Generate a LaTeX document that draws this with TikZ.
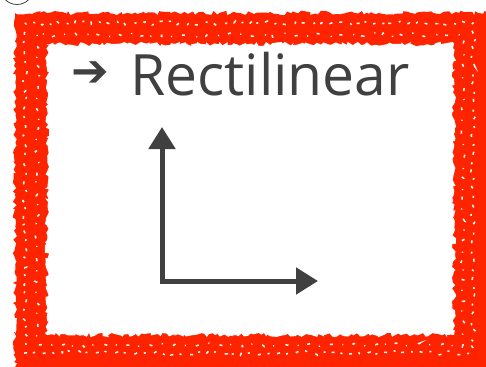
\documentclass[tikz,border=0pt]{standalone}
\usepackage{fontspec}
\setmainfont{Open Sans}
\newfontfamily\symbfont{DejaVu Sans}
\usetikzlibrary{arrows.meta,decorations.pathmorphing}
\definecolor{framered}{RGB}{255,36,0}
\definecolor{ink}{RGB}{64,64,64}

\begin{document}
\begin{tikzpicture}[
  x=1pt, y=-1pt,
  rough/.style={decorate, decoration={random steps, segment length=3pt, amplitude=2.2pt}},
  speck/.style={white, line width=2.4pt, rough,
                dash pattern=on 3pt off 5pt on 5pt off 4pt on 1pt off 6pt},
  ax/.style={ink, line width=5pt, line join=miter,
             {Triangle[length=22pt,width=26pt]}-{Triangle[length=22pt,width=26pt]}},
]
\useasboundingbox (0,0) rectangle (486,366);
\pgfmathsetseed{11}
% brush frame
\fill[framered, rough] (15,13) rectangle (492,372);
\fill[white, rough] (47,44) rectangle (454,335);
\draw[speck] (52,49) rectangle (449,330);
\draw[speck, line width=1.8pt, dash pattern=on 2pt off 6pt on 4pt off 5pt] (58,55) rectangle (443,324);
\draw[speck, line width=1.5pt, dash pattern=on 2pt off 9pt on 3pt off 7pt] (25,23) rectangle (473,353);
\draw[speck, line width=1.5pt, dash pattern=on 1pt off 12pt on 3pt off 10pt] (37,35) rectangle (463,345);
% cut-off badge
\node[draw=ink, circle, line width=0.8pt, minimum size=33pt, inner sep=0pt] (badge) at (17,-12) {};
% title
\node[ink, anchor=center, inner sep=0pt, font=\symbfont\fontsize{45}{48}\selectfont] (pointer) at (90,74) {➔};
\node[ink, anchor=base west, inner sep=0pt, font=\fontsize{57}{60}\selectfont] (title) at (130,96) {Rectilinear};
% axes
\coordinate (origin) at (162,281);
\coordinate (ytip) at (162,127);
\coordinate (xtip) at (318,281);
\draw[ax] (ytip) -- (origin) -- (xtip);
\end{tikzpicture}
\end{document}
